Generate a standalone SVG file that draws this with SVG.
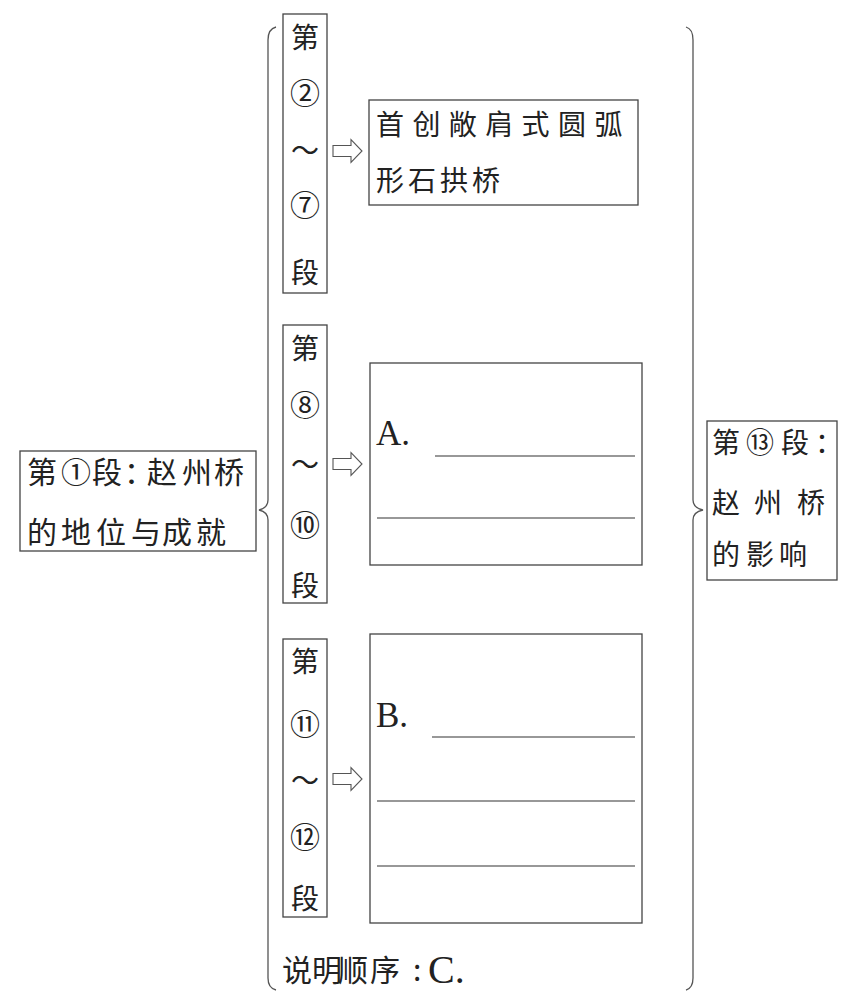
<svg xmlns="http://www.w3.org/2000/svg" width="856" height="992" viewBox="0 0 856 992">
<style>
.bg{fill:#ffffff}
.box{fill:none;stroke:#444;stroke-width:1.3}
.cj{font-family:"Noto Sans CJK SC","Noto Sans CJK JP",sans-serif;fill:#222}
.lat{font-family:"Liberation Serif","Times New Roman",serif;fill:#222}
.vt{font-family:"Noto Sans CJK SC","Noto Sans CJK JP",sans-serif;fill:#222;font-size:28px;text-anchor:middle}
.num{font-size:30px}
.blank{stroke:#333;stroke-width:1.2}
.brace{fill:none;stroke:#555;stroke-width:1.3}
.arrow{fill:#fff;stroke:#555;stroke-width:1.1;stroke-linejoin:miter}
</style>
<rect class="bg" x="0" y="0" width="856" height="992"/>

<g id="connectors">
  <path class="brace" d="M276,27 Q268,29 268,40 L268,500 Q268,508 259,510 Q268,512 268,520 L268,978 Q268,988 276,990"/>
  <path class="brace" d="M686,27 Q693,29 693,40 L693,500 Q693,508 703,510 Q693,512 693,520 L693,978 Q693,988 686,990"/>
  <polygon class="arrow" points="333,145.5 351,145.5 351,139.5 362,151 351,162.5 351,156.5 333,156.5"/>
  <polygon class="arrow" points="333,458.5 351,458.5 351,452.5 362,464 351,475.5 351,469.5 333,469.5"/>
  <polygon class="arrow" points="333,773.5 351,773.5 351,767.5 362,779 351,790.5 351,784.5 333,784.5"/>
</g>

<g id="node-intro">
  <rect class="box" x="20" y="451" width="236" height="100"/>
  <text class="cj" font-size="30" x="27 61 92 124 147 182 214" y="483">第①段：赵州桥</text>
  <text class="cj" font-size="30" x="27 61 96 131 162 196" y="543">的地位与成就</text>
</g>

<g id="node-p2-7">
  <rect class="box" x="283" y="14" width="44" height="279"/>
  <text class="vt" x="305" y="48">第</text>
  <text class="vt num" x="305" y="104">②</text>
  <text class="vt" x="305" y="161">～</text>
  <text class="vt num" x="305" y="216">⑦</text>
  <text class="vt" x="305" y="283">段</text>
</g>

<g id="node-arch">
  <rect class="box" x="369" y="100" width="269" height="105"/>
  <text class="cj" font-size="28" letter-spacing="8.4" x="376" y="135">首创敞肩式圆弧</text>
  <text class="cj" font-size="28" letter-spacing="4" x="376" y="191">形石拱桥</text>
</g>

<g id="node-p8-10">
  <rect class="box" x="283" y="325" width="44" height="278"/>
  <text class="vt" x="305" y="359">第</text>
  <text class="vt num" x="305" y="416">⑧</text>
  <text class="vt" x="305" y="475">～</text>
  <text class="vt num" x="305" y="536">⑩</text>
  <text class="vt" x="305" y="596">段</text>
</g>

<g id="node-A">
  <rect class="box" x="370" y="363" width="272" height="202"/>
  <text class="lat" font-size="35" x="376" y="445">A.</text>
  <line class="blank" x1="435" y1="456" x2="635" y2="456"/>
  <line class="blank" x1="377" y1="518" x2="635" y2="518"/>
</g>

<g id="node-p11-12">
  <rect class="box" x="283" y="639" width="44" height="278"/>
  <text class="vt" x="305" y="672">第</text>
  <text class="vt num" x="305" y="735">⑪</text>
  <text class="vt" x="305" y="791">～</text>
  <text class="vt num" x="305" y="848">⑫</text>
  <text class="vt" x="305" y="909">段</text>
</g>

<g id="node-B">
  <rect class="box" x="370" y="634" width="272" height="289"/>
  <text class="lat" font-size="35" x="376" y="727">B.</text>
  <line class="blank" x1="432" y1="737" x2="635" y2="737"/>
  <line class="blank" x1="377" y1="801" x2="635" y2="801"/>
  <line class="blank" x1="377" y1="866" x2="635" y2="866"/>
</g>

<g id="node-order">
  <text class="cj" font-size="30" x="282 312 338 370 413" y="981">说明顺序:</text>
  <text class="lat" font-size="40" x="428" y="983">C.</text>
</g>

<g id="node-influence">
  <rect class="box" x="707" y="421" width="130" height="159"/>
  <text class="cj" font-size="28" x="712 746 781 815" y="453">第⑬段：</text>
  <text class="cj" font-size="28" x="712 754 797" y="513">赵州桥</text>
  <text class="cj" font-size="28" x="712 746 779" y="565">的影响</text>
</g>
</svg>
